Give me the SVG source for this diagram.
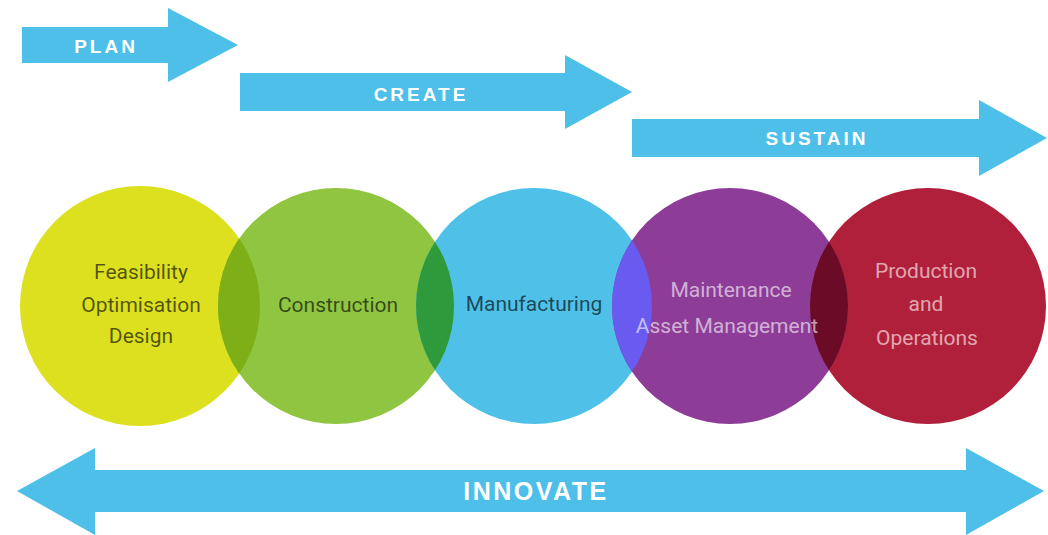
<svg xmlns="http://www.w3.org/2000/svg" width="1048" height="535" viewBox="0 0 1048 535">
  <style>
    .arrow { fill: #4dbfe8; }
    .arrow-label { font-family: "Liberation Sans", Arial, sans-serif; font-weight: bold; fill: #ffffff; text-anchor: middle; }
    .stage-label { font-family: Roboto, "Noto Sans", sans-serif; font-size: 21px; text-anchor: middle; }
    .dark { fill: #000000; fill-opacity: 0.64; }
    .light { fill: #ffffff; fill-opacity: 0.62; }
  </style>
  <defs>
    <clipPath id="clip-yellow"><circle cx="140" cy="306" r="120"/></clipPath>
    <clipPath id="clip-green"><circle cx="336" cy="306" r="118"/></clipPath>
    <clipPath id="clip-blue"><circle cx="534" cy="306" r="118"/></clipPath>
    <clipPath id="clip-red"><circle cx="928" cy="306" r="118"/></clipPath>
  </defs>

  <rect width="1048" height="535" fill="#ffffff"/>

  <!-- phase arrows -->
  <g id="arrows">
    <g id="arrow-plan">
      <path class="arrow" d="M22,27 H168 V8 L238,45 L168,82 V63 H22 Z"/>
      <text class="arrow-label" x="106" y="53" font-size="19" letter-spacing="3">PLAN</text>
    </g>
    <g id="arrow-create">
      <path class="arrow" d="M240,73 H565 V55 L632,92 L565,129 V111 H240 Z"/>
      <text class="arrow-label" x="421" y="101" font-size="19" letter-spacing="3">CREATE</text>
    </g>
    <g id="arrow-sustain">
      <path class="arrow" d="M632,119 H979 V100 L1047,138 L979,176 V157 H632 Z"/>
      <text class="arrow-label" x="817" y="145" font-size="19" letter-spacing="3">SUSTAIN</text>
    </g>
    <g id="arrow-innovate">
      <path class="arrow" d="M17,491 L95,448 V470 H966 V448 L1044,491 L966,535 V512 H95 V535 Z"/>
      <text class="arrow-label" x="536" y="500" font-size="25" letter-spacing="2.5">INNOVATE</text>
    </g>
  </g>

  <!-- lifecycle stages -->
  <g id="stage-feasibility">
    <circle cx="140" cy="306" r="120" fill="#dde01e"/>
    <text class="stage-label dark" x="141" y="279">Feasibility</text>
    <text class="stage-label dark" x="141" y="312">Optimisation</text>
    <text class="stage-label dark" x="141" y="343">Design</text>
  </g>

  <g id="stage-construction">
    <circle cx="336" cy="306" r="118" fill="#8fc540"/>
    <circle cx="336" cy="306" r="118" fill="#7eaf17" clip-path="url(#clip-yellow)"/>
    <text class="stage-label dark" x="338" y="312">Construction</text>
  </g>

  <g id="stage-manufacturing">
    <circle cx="534" cy="306" r="118" fill="#4fc1e9"/>
    <circle cx="534" cy="306" r="118" fill="#2e9a3c" clip-path="url(#clip-green)"/>
    <text class="stage-label dark" x="534" y="311">Manufacturing</text>
  </g>

  <g id="stage-production">
    <circle cx="928" cy="306" r="118" fill="#b1203a"/>
    <text class="stage-label light" x="926" y="278">Production</text>
    <text class="stage-label light" x="926" y="311">and</text>
    <text class="stage-label light" x="927" y="345">Operations</text>
  </g>

  <g id="stage-maintenance">
    <circle cx="730" cy="306" r="118" fill="#8d3c98"/>
    <circle cx="730" cy="306" r="118" fill="#6a5bf0" clip-path="url(#clip-blue)"/>
    <circle cx="730" cy="306" r="118" fill="#6c0b26" clip-path="url(#clip-red)"/>
    <text class="stage-label light" x="731" y="297">Maintenance</text>
    <text class="stage-label light" x="727" y="333">Asset Management</text>
  </g>
</svg>
